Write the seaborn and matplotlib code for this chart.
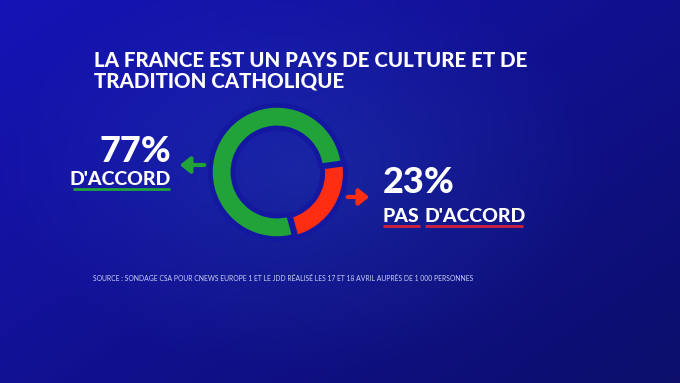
import numpy as np
import matplotlib
matplotlib.use("Agg")
import matplotlib.pyplot as plt
import seaborn as sns

# ---- data ----
title = "LA FRANCE EST UN PAYS DE CULTURE ET DE\nTRADITION CATHOLIQUE"
categories = ["PAS D'ACCORD", "D'ACCORD"]
values = [23, 77]
labels_pct = ["23%", "77%"]
source = "SOURCE : SONDAGE CSA POUR CNEWS EUROPE 1 ET LE JDD RÉALISÉ LES 17 ET 18 AVRIL AUPRÈS DE 1 000 PERSONNES"

sns.set_theme(style="white")
plt.rcParams['font.family'] = ['Lato', 'DejaVu Sans']

GREEN = "#22a33a"
RED = "#ff2d12"
ULRED = "#d2203c"
W, H = 680, 383
fig = plt.figure(figsize=(W / 100, H / 100), dpi=100)

# background gradient
bg = fig.add_axes([0, 0, 1, 1])
yy, xx = np.mgrid[0:H, 0:W]
t = (xx / W * 0.55 + yy / H * 0.45)
c0 = np.array([0x16, 0x14, 0xb6]) / 255
c1 = np.array([0x0c, 0x0e, 0x6a]) / 255
img = c0[None, None, :] * (1 - t[..., None]) + c1[None, None, :] * t[..., None]
d = np.sqrt(((xx - 300) / 300) ** 2 + ((yy - 170) / 200) ** 2)
boost = np.clip(1 - d, 0, 1)[..., None] * np.array([0.03, 0.08, 0.06])
img = np.clip(img + boost, 0, 1)
bg.imshow(img, extent=[0, W, H, 0], aspect="auto")
bg.set_xlim(0, W)
bg.set_ylim(H, 0)
bg.axis("off")

# donut
cx, cy, r = 277, 172, 70
ax = fig.add_axes([(cx - r) / W, (H - cy - r) / H, 2 * r / W, 2 * r / H])
ax.pie(values, colors=[RED, GREEN], startangle=8, counterclock=False,
       wedgeprops=dict(width=0.34, edgecolor="#1418a0", linewidth=3.5),
       explode=[0.03, 0])
ax.set_xlim(-1.05, 1.05)
ax.set_ylim(-1.05, 1.05)
ax.set_aspect("equal")
ax.axis("off")

bold = dict(color="white", fontweight="black")
# title
bg.text(94, 67, title.split("\n")[0], fontsize=14.8, va="baseline", ha="left", **bold)
bg.text(94, 88, title.split("\n")[1], fontsize=14.8, va="baseline", ha="left", **bold)

# left label
bg.text(171, 162, labels_pct[1], fontsize=26, ha="right", va="baseline", **bold)
bg.text(171, 185, categories[1], fontsize=14, ha="right", va="baseline", **bold)
bg.plot([73, 170], [188.5, 188.5], color=GREEN, lw=2, solid_capstyle="butt")
bg.annotate("", xy=(177, 165), xytext=(207, 165),
            arrowprops=dict(arrowstyle="-|>,head_length=0.5,head_width=0.4",
                            color=GREEN, lw=3))

# right label
bg.text(383, 193, labels_pct[0], fontsize=26, ha="left", va="baseline", **bold)
bg.text(383, 222, "PAS", fontsize=14, ha="left", va="baseline", **bold)
bg.text(425, 222, "D'ACCORD", fontsize=14, ha="left", va="baseline", **bold)
bg.plot([383, 420], [225.5, 225.5], color=ULRED, lw=2, solid_capstyle="butt")
bg.plot([425, 523], [225.5, 225.5], color=ULRED, lw=2, solid_capstyle="butt")
bg.annotate("", xy=(372, 197), xytext=(345, 197),
            arrowprops=dict(arrowstyle="-|>,head_length=0.5,head_width=0.4",
                            color=RED, lw=3))

# source
bg.text(93, 281, source, fontsize=4.9, color="#c9d0f2", ha="left", va="baseline")

fig.savefig("out.png", dpi=100)
